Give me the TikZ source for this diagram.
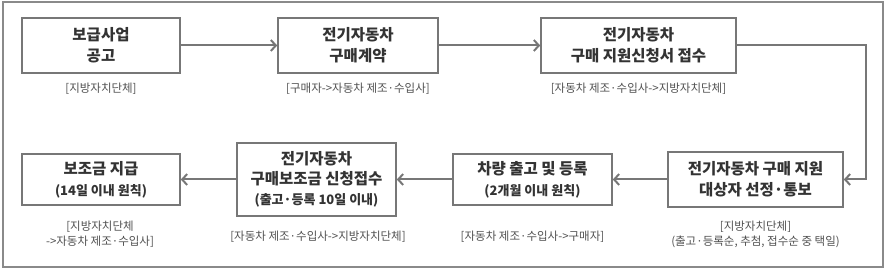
\documentclass[tikz,border=0pt]{standalone}
\usepackage{fontspec}
\setmainfont{Noto Sans CJK KR}
\usetikzlibrary{arrows.meta}
\definecolor{boxline}{HTML}{777777}
\definecolor{frameline}{HTML}{8A8A8A}
\definecolor{maintext}{HTML}{333333}
\definecolor{subtext}{HTML}{505050}
\begin{document}
\begin{tikzpicture}[x=1pt,y=-1pt,
  stepbox/.style={draw=boxline,line width=1.6pt,fill=white,inner sep=0pt,align=center,
    text=maintext,font=\fontsize{15.5}{21}\selectfont\bfseries},
  note/.style={align=center,text=subtext,inner sep=0pt,font=\fontsize{11.5}{15}\selectfont},
  flow/.style={draw=boxline,line width=2pt,-{Straight Barb[length=5pt,width=11pt,line width=2pt]}}]
\newcommand{\subline}{\fontsize{13}{18}\selectfont}
\useasboundingbox (0,0) rectangle (888,272);
\draw[frameline,line width=1.2pt] (3,2) rectangle (883,267);
% boxes
\node[stepbox,minimum width=158pt,minimum height=55pt] (b1) at (101,45.5) {보급사업\\공고};
\node[stepbox,minimum width=160pt,minimum height=55pt] (b2) at (358,45.5) {전기자동차\\구매계약};
\node[stepbox,minimum width=195pt,minimum height=55pt] (b3) at (638.5,45.5) {전기자동차\\구매 지원신청서 접수};
\node[stepbox,minimum width=175pt,minimum height=55pt] (b4) at (755.5,179.5) {전기자동차 구매 지원\\대상자 선정·통보};
\node[stepbox,minimum width=159pt,minimum height=51pt] (b5) at (532.5,179.5) {차량 출고 및 등록\\{\subline (2개월 이내 원칙)}};
\node[stepbox,minimum width=159pt,minimum height=73pt,font=\fontsize{15.5}{20}\selectfont\bfseries] (b6) at (316.5,179.5) {전기자동차\\구매보조금 신청접수\\{\subline (출고·등록 10일 이내)}};
\node[stepbox,minimum width=158pt,minimum height=51pt] (b7) at (101,179.5) {보조금 지급\\{\subline (14일 이내 원칙)}};
% notes
\node[note] (n1) at (101,89) {[지방자치단체]};
\node[note] (n2) at (358,89) {[구매자->자동차 제조·수입사]};
\node[note] (n3) at (638.5,89) {[자동차 제조·수입사->지방자치단체]};
\node[note] (n4) at (755.5,234.5) {[지방자치단체]\\(출고·등록순, 추첨, 접수순 중 택일)};
\node[note] (n5) at (532.5,237) {[자동차 제조·수입사->구매자]};
\node[note] (n6) at (318,237) {[자동차 제조·수입사->지방자치단체]};
\node[note] (n7) at (100,234.5) {[지방자치단체\\->자동차 제조·수입사]};
% connectors
\coordinate (c) at (866,45.5);
\draw[flow] (b1.east) -- (b2.west);
\draw[flow] (b2.east) -- (b3.west);
\draw[flow] (b3.east) -- (c) |- (b4.east);
\draw[flow] (b4.west) -- (b5.east);
\draw[flow] (b5.west) -- (b6.east);
\draw[flow] (b6.west) -- (b7.east);
\end{tikzpicture}
\end{document}
